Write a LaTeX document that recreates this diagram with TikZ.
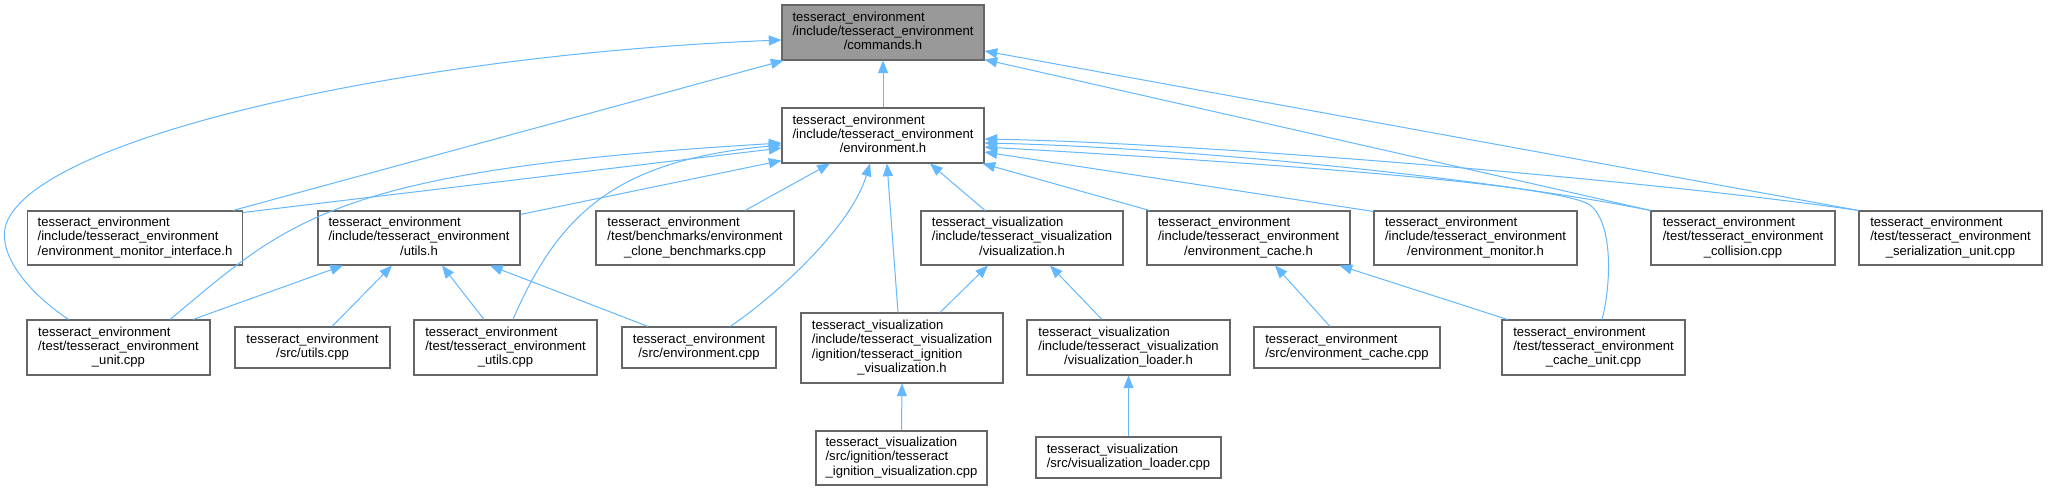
\documentclass[tikz,border=0pt]{standalone}
\usepackage{fontspec}
\setmainfont{Liberation Sans}
\usetikzlibrary{arrows.meta,calc}
\definecolor{grey40}{HTML}{666666}
\definecolor{grey60}{HTML}{999999}
\definecolor{steelblue1}{HTML}{63B8FF}
\newcommand{\lbl}[2]{\begin{tabular}{@{}l@{}}#1\\\multicolumn{1}{@{}c@{}}{#2}\end{tabular}}
\begin{document}
\begin{tikzpicture}[x=0.75pt,y=-0.75pt,
  box/.style={draw=grey40,fill=white,line width=0.8pt,inner sep=0pt,
    font=\fontsize{9.8pt}{10.75pt}\selectfont},
  wh/.style 2 args={minimum width=#1*0.75pt,minimum height=#2*0.75pt},
  dep/.style={draw=steelblue1,line width=0.75pt,-{Triangle[length=9.5pt,width=7.5pt]}}]
\fill[white] (0,0) rectangle (2049,491);
\useasboundingbox (0,0) rectangle (2049,491);
% row 0/1
\node[box,fill=grey60,wh={202}{55}] (cmd) at (883,32.5) {\lbl{tesseract\_environment\\/include/tesseract\_environment}{/commands.h}};
\node[box,wh={202}{55}] (env) at (883,135.5) {\lbl{tesseract\_environment\\/include/tesseract\_environment}{/environment.h}};
% row 2
\node[box,wh={215}{54}] (mif) at (135,238) {\lbl{tesseract\_environment\\/include/tesseract\_environment}{/environment\_monitor\_interface.h}};
\node[box,wh={202}{54}] (utilh) at (419,238) {\lbl{tesseract\_environment\\/include/tesseract\_environment}{/utils.h}};
\node[box,wh={198}{54}] (clone) at (695,238) {\lbl{tesseract\_environment\\/test/benchmarks/environment}{\_clone\_benchmarks.cpp}};
\node[box,wh={202}{54}] (vish) at (1022,238) {\lbl{tesseract\_visualization\\/include/tesseract\_visualization}{/visualization.h}};
\node[box,wh={203}{54}] (cacheh) at (1248.5,238) {\lbl{tesseract\_environment\\/include/tesseract\_environment}{/environment\_cache.h}};
\node[box,wh={203}{54}] (monh) at (1475.5,238) {\lbl{tesseract\_environment\\/include/tesseract\_environment}{/environment\_monitor.h}};
\node[box,wh={184}{54}] (coll) at (1743,238) {\lbl{tesseract\_environment\\/test/tesseract\_environment}{\_collision.cpp}};
\node[box,wh={183}{54}] (ser) at (1950.5,238) {\lbl{tesseract\_environment\\/test/tesseract\_environment}{\_serialization\_unit.cpp}};
% row 3
\node[box,wh={183}{55}] (unit) at (118.5,347.5) {\lbl{tesseract\_environment\\/test/tesseract\_environment}{\_unit.cpp}};
\node[box,wh={155}{41}] (utilcpp) at (312.5,347.5) {\lbl{tesseract\_environment}{/src/utils.cpp}};
\node[box,wh={183}{55}] (tutil) at (505.5,347.5) {\lbl{tesseract\_environment\\/test/tesseract\_environment}{\_utils.cpp}};
\node[box,wh={154}{41}] (envcpp) at (699,347.5) {\lbl{tesseract\_environment}{/src/environment.cpp}};
\node[box,wh={202}{70}] (ignh) at (902,348) {\lbl{tesseract\_visualization\\/include/tesseract\_visualization\\/ignition/tesseract\_ignition}{\_visualization.h}};
\node[box,wh={203}{55}] (loadh) at (1128.5,347.5) {\lbl{tesseract\_visualization\\/include/tesseract\_visualization}{/visualization\_loader.h}};
\node[box,wh={186}{41}] (cachecpp) at (1347,347.5) {\lbl{tesseract\_environment}{/src/environment\_cache.cpp}};
\node[box,wh={183}{55}] (cunit) at (1593.5,347.5) {\lbl{tesseract\_environment\\/test/tesseract\_environment}{\_cache\_unit.cpp}};
% row 4
\node[box,wh={171}{54}] (igncpp) at (901.5,458) {\lbl{tesseract\_visualization\\/src/ignition/tesseract}{\_ignition\_visualization.cpp}};
\node[box,wh={185}{41}] (loadcpp) at (1128.5,457.5) {\lbl{tesseract\_visualization}{/src/visualization\_loader.cpp}};
% edges into commands.h
\draw[dep] (env.north) -- (cmd.south);
\draw[dep] ($(mif.north)+(98,0)$) -- ($(cmd.south west)+(2,0)$);
\draw[dep] ($(unit.north)+(-50,0)$) .. controls (25,290) and (0,255) .. (5,228) .. controls (25,140) and (400,55) .. ($(cmd.west)+(0,7.5)$);
\draw[dep] (coll.north west) -- ($(cmd.south east)+(0,-1)$);
\draw[dep] (ser.north west) -- ($(cmd.east)+(0,18.5)$);
% edges into environment.h
\draw[dep] ($(mif.north east)+(0,2)$) -- ($(env.west)+(0,12.5)$);
\draw[dep] ($(unit.north)+(51.5,0)$) .. controls (290,220) and (330,170) .. ($(env.west)+(0,7.5)$);
\draw[dep] ($(tutil.north)+(7.5,0)$) .. controls (560,210) and (620,160) .. ($(env.west)+(0,9.5)$);
\draw[dep] ($(utilh.north east)+(0,4)$) -- ($(env.south west)+(0,-3)$);
\draw[dep] ($(clone.north)+(50,0)$) -- ($(env.south)+(-53,0)$);
\draw[dep] ($(envcpp.north)+(31,0)$) .. controls (770,300) and (850,230) .. ($(env.south)+(-13,0)$);
\draw[dep] ($(ignh.north)+(-4,0)$) -- ($(env.south)+(4,0)$);
\draw[dep] ($(vish.north)+(-37,0)$) -- ($(env.south)+(47,0)$);
\draw[dep] ($(cacheh.north west)+(3,0)$) -- ($(env.south east)+(-2,0)$);
\draw[dep] ($(monh.north west)+(0,1)$) -- ($(env.east)+(0,16.5)$);
\draw[dep] (coll.north west) .. controls (1500,180) and (1200,148) .. ($(env.east)+(0,7.5)$);
\draw[dep] (ser.north west) .. controls (1650,180) and (1200,143) .. ($(env.east)+(0,3.5)$);
\draw[dep] ($(cunit.north)+(8.5,0)$) .. controls (1610,290) and (1615,225) .. (1590,205) .. controls (1560,185) and (1300,165) .. ($(env.east)+(0,11.5)$);
% edges into utils.h
\draw[dep] ($(unit.north)+(74.5,0)$) -- ($(utilh.south)+(-76,0)$);
\draw[dep] ($(utilcpp.north)+(19.5,0)$) -- ($(utilh.south)+(-27,0)$);
\draw[dep] ($(tutil.north)+(-21.5,0)$) -- ($(utilh.south)+(23,0)$);
\draw[dep] ($(envcpp.north)+(-51,0)$) -- ($(utilh.south)+(71,0)$);
% edges into visualization.h
\draw[dep] ($(ignh.north)+(38,0)$) -- ($(vish.south)+(-34,0)$);
\draw[dep] ($(loadh.north)+(-26.5,0)$) -- ($(vish.south)+(28,0)$);
% edges into environment_cache.h
\draw[dep] ($(cachecpp.north)+(-17,0)$) -- ($(cacheh.south)+(26.5,0)$);
\draw[dep] ($(cunit.north west)+(6,0)$) -- ($(cacheh.south east)+(-11,0)$);
% lower edges
\draw[dep] (igncpp.north) -- (ignh.south);
\draw[dep] (loadcpp.north) -- (loadh.south);
\end{tikzpicture}
\end{document}
